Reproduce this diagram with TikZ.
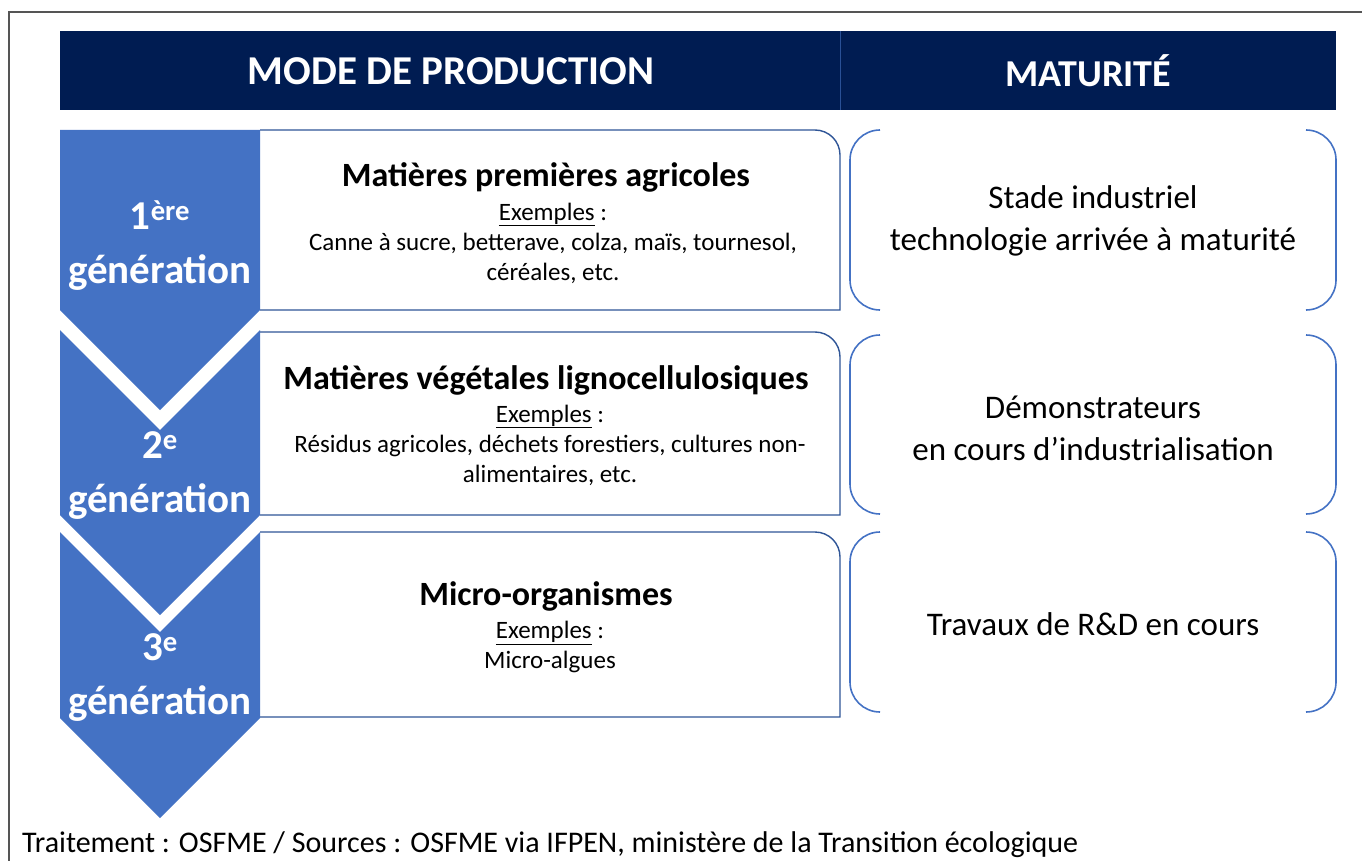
\documentclass[tikz,border=0pt]{standalone}
\usepackage{fontspec}
\setmainfont{Carlito}
\definecolor{navy}{HTML}{001C52}
\definecolor{chev}{HTML}{4472C4}
\definecolor{boxblue}{HTML}{2F5597}
\definecolor{brk}{HTML}{4472C4}
\definecolor{frame}{HTML}{555555}
\tikzset{
  chevron/.style={fill=chev, draw=none},
  genbox/.style={draw=boxblue, line width=1.4pt, fill=white},
  bracket/.style={draw=brk, line width=1.6pt, rounded corners=30pt},
  gentext/.style={text=white, font=\fontsize{41}{54}\selectfont\bfseries, align=center, inner sep=0pt},
  titletext/.style={font=\fontsize{34}{40}\selectfont\bfseries, inner sep=0pt},
  extext/.style={font=\fontsize{25}{30}\selectfont, align=center, inner sep=0pt},
  mattext/.style={font=\fontsize{33}{42}\selectfont, align=center, inner sep=0pt},
  headtext/.style={text=white, font=\fontsize{41}{46}\selectfont\bfseries, inner sep=0pt},
}
\begin{document}
\begin{tikzpicture}[x=1pt,y=-1pt]
\useasboundingbox (0,0) rectangle (1362,861);
% frame
\draw[frame, line width=1.2pt] (9,861) -- (9,12) -- (1362,12);
% header
\fill[navy] (60,31) rectangle (1336,110);
\draw[chev!60!navy, line width=1pt] (840,31) -- (840,110);
\node[headtext] (hmode) at (451,71) {MODE DE PRODUCTION};
\node[headtext, font=\fontsize{38}{46}\selectfont\bfseries] (hmat) at (1088,71) {MATURITÉ};
% boxes
\foreach \t/\b in {130/310, 332/515, 532/717}{
  \draw[genbox] (260,\b) -- (840,\b) -- (840,\t+25) .. controls (840,\t+11.2) and (828.8,\t) .. (815,\t) -- (260,\t);
}
% chevrons
\fill[chevron] (60,130) -- (260,130) -- (260,310) -- (160,410) -- (60,310) -- cycle;
\fill[chevron] (60,330) -- (160,430) -- (260,330) -- (260,515) -- (160,615) -- (60,515) -- cycle;
\fill[chevron] (60,532) -- (160,632) -- (260,532) -- (260,718) -- (160,818) -- (60,718) -- cycle;
% brackets
\foreach \t/\b in {130/310, 335/514, 532/712}{
  \draw[bracket] (880,\t) -- (850,\t) -- (850,\b) -- (880,\b);
  \draw[bracket] (1306,\t) -- (1336,\t) -- (1336,\b) -- (1306,\b);
}
% generation labels
\node[gentext] (g1) at (160,246) {1\textsuperscript{ère}\\génération};
\node[gentext] (g2) at (160,476) {2\textsuperscript{e}\\génération};
\node[gentext] (g3) at (160,678) {3\textsuperscript{e}\\génération};
% box texts
\node[titletext] (t1) at (546,177) {Matières premières agricoles};
\node[extext] (e1) at (553,243) {\underline{Exemples} :\\Canne à sucre, betterave, colza, maïs, tournesol,\\céréales, etc.};
\node[titletext] (t2) at (546,380) {Matières végétales lignocellulosiques};
\node[extext] (e2) at (550,445) {\underline{Exemples} :\\Résidus agricoles, déchets forestiers, cultures non-\\alimentaires, etc.};
\node[titletext] (t3) at (546,596) {Micro-organismes};
\node[extext] (e3) at (550,647) {\underline{Exemples} :\\Micro-algues};
% maturity texts
\node[mattext] (m1) at (1093,221) {Stade industriel\\technologie arrivée à maturité};
\node[mattext] (m2) at (1093,428) {Démonstrateurs\\en cours d’industrialisation};
\node[mattext] (m3) at (1093,624) {Travaux de R\&D en cours};
% footer
\node[anchor=base west, font=\fontsize{30}{34}\selectfont, inner sep=0pt] (src) at (22,852) {Traitement : OSFME / Sources : OSFME via IFPEN, ministère de la Transition écologique};
\end{tikzpicture}
\end{document}
